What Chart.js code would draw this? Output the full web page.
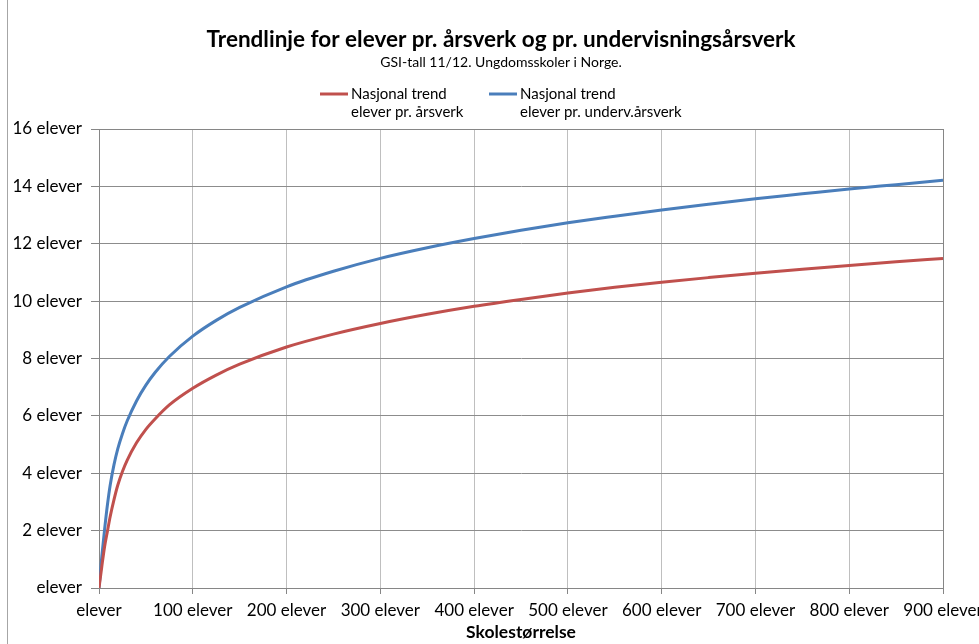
<!DOCTYPE html>
<html>
<head>
<meta charset="utf-8">
<script src="https://cdn.jsdelivr.net/npm/chart.js@4/dist/chart.umd.min.js"></script>
<style>
  html, body { margin: 0; padding: 0; background: #fff; }
  #wrap { position: relative; width: 979px; height: 644px; }
</style>
</head>
<body>
<div id="wrap"><canvas id="c" width="979" height="644"></canvas></div>
<script>
// ---- data ----
const chartTitle = 'Trendlinje for elever pr. årsverk og pr. undervisningsårsverk';
const chartSubtitle = 'GSI-tall 11/12. Ungdomsskoler i Norge.';
const xAxisTitle = 'Skolestørrelse';

const schoolSizes = [0, 3, 6, 9, 12, 16, 20, 25, 30, 40, 50, 60, 75, 100, 125, 150, 200, 250, 300, 350, 400, 450, 500, 550, 600, 650, 700, 750, 800, 850, 900];
const perArsverk = [0, 0.75, 1.45, 1.98, 2.5, 3.08, 3.58, 4.06, 4.45, 5.06, 5.53, 5.9, 6.38, 6.96, 7.42, 7.8, 8.4, 8.85, 9.22, 9.54, 9.82, 10.06, 10.28, 10.48, 10.66, 10.82, 10.97, 11.11, 11.24, 11.37, 11.49];
const perUndervArsverk = [0, 1.1, 2.05, 2.9, 3.6, 4.3, 4.85, 5.38, 5.82, 6.52, 7.07, 7.52, 8.07, 8.78, 9.33, 9.78, 10.5, 11.04, 11.49, 11.86, 12.18, 12.47, 12.73, 12.96, 13.18, 13.38, 13.57, 13.74, 13.91, 14.06, 14.21];

const seriesNames = [
  ['Nasjonal trend', 'elever pr. årsverk'],
  ['Nasjonal trend', 'elever pr. underv.årsverk']
];
const seriesColors = ['#C0504D', '#4A7EBB'];

const xTickValues = [0, 100, 200, 300, 400, 500, 600, 700, 800, 900];
const xTickLabels = ['elever', '100 elever', '200 elever', '300 elever', '400 elever', '500 elever', '600 elever', '700 elever', '800 elever', '900 elever'];
const yTickValues = [0, 2, 4, 6, 8, 10, 12, 14, 16];
const yTickLabels = ['elever', '2 elever', '4 elever', '6 elever', '8 elever', '10 elever', '12 elever', '14 elever', '16 elever'];

// ---- chart ----
const FONT = 'Lato, "Open Sans", "Liberation Sans", sans-serif';

const toPoints = (vals) => schoolSizes.map((x, i) => ({ x: x, y: vals[i] }));

const headerPlugin = {
  id: 'header',
  beforeDatasetsDraw(chart) {
    const ctx = chart.ctx, a = chart.chartArea;
    ctx.save();
    ctx.strokeStyle = '#868686';
    ctx.lineWidth = 1;
    ctx.strokeRect(Math.round(a.left) + 0.5, Math.round(a.top) + 0.5, Math.round(a.right - a.left), Math.round(a.bottom - a.top));
    // chart-area frame (left edge visible in the reference)
    ctx.strokeStyle = '#A6A6A6';
    ctx.beginPath();
    ctx.moveTo(7.5, 0);
    ctx.lineTo(7.5, chart.height);
    ctx.stroke();
    ctx.restore();
  },
  afterDraw(chart) {
    const ctx = chart.ctx;
    ctx.save();
    ctx.fillStyle = '#000';
    ctx.textAlign = 'center';
    ctx.textBaseline = 'middle';
    ctx.font = 'bold 22.5px ' + FONT;
    ctx.fillText(chartTitle, 501, 40);
    ctx.font = '14px ' + FONT;
    ctx.fillText(chartSubtitle, 501, 62);

    // legend
    const starts = [320, 489];
    chart.data.datasets.forEach((ds, i) => {
      const x0 = starts[i];
      ctx.strokeStyle = ds.borderColor;
      ctx.lineWidth = 3;
      ctx.beginPath();
      ctx.moveTo(x0, 94);
      ctx.lineTo(x0 + 28, 94);
      ctx.stroke();
      ctx.fillStyle = '#000';
      ctx.textAlign = 'left';
      ctx.font = '15px ' + FONT;
      seriesNames[i].forEach((line, k) => ctx.fillText(line, x0 + 31, 94 + k * 18));
    });
    ctx.restore();
  }
};

new Chart(document.getElementById('c'), {
  type: 'scatter',
  data: {
    datasets: [
      {
        label: seriesNames[0].join(' '),
        data: toPoints(perArsverk),
        showLine: true,
        borderColor: seriesColors[0],
        backgroundColor: seriesColors[0],
        borderWidth: 3,
        pointRadius: 0,
        cubicInterpolationMode: 'monotone'
      },
      {
        label: seriesNames[1].join(' '),
        data: toPoints(perUndervArsverk),
        showLine: true,
        borderColor: seriesColors[1],
        backgroundColor: seriesColors[1],
        borderWidth: 3,
        pointRadius: 0,
        cubicInterpolationMode: 'monotone'
      }
    ]
  },
  options: {
    responsive: false,
    animation: false,
    events: [],
    layout: { padding: { top: 129, left: 0, right: 36, bottom: 0 } },
    plugins: {
      legend: { display: false },
      title: { display: false },
      tooltip: { enabled: false }
    },
    scales: {
      x: {
        type: 'linear',
        min: 0,
        max: 900,
        afterBuildTicks(scale) { scale.ticks = xTickValues.map(v => ({ value: v })); },
        afterFit(scale) { scale.height = 56; scale.paddingLeft = 0; scale.paddingRight = 0; },
        ticks: {
          color: '#000',
          font: { family: FONT, size: 17 },
          padding: 6,
          maxRotation: 0,
          autoSkip: false,
          callback: (v) => xTickLabels[xTickValues.indexOf(v)]
        },
        grid: { color: '#BFBFBF', tickColor: '#868686', tickLength: 6 },
        border: { color: '#868686' },
        title: {
          display: true,
          text: xAxisTitle,
          color: '#000',
          font: { family: FONT, size: 17.5, weight: 'bold' },
          padding: { top: 0, bottom: 1 }
        }
      },
      y: {
        type: 'linear',
        min: 0,
        max: 16,
        afterBuildTicks(scale) { scale.ticks = yTickValues.map(v => ({ value: v })); },
        afterFit(scale) { scale.width = 99; },
        ticks: {
          color: '#000',
          font: { family: FONT, size: 17 },
          padding: 9,
          autoSkip: false,
          callback: (v) => yTickLabels[yTickValues.indexOf(v)]
        },
        grid: { color: '#8C8C8C', tickColor: '#868686', tickLength: 8 },
        border: { color: '#868686' }
      }
    }
  },
  plugins: [headerPlugin]
});
</script>
</body>
</html>
